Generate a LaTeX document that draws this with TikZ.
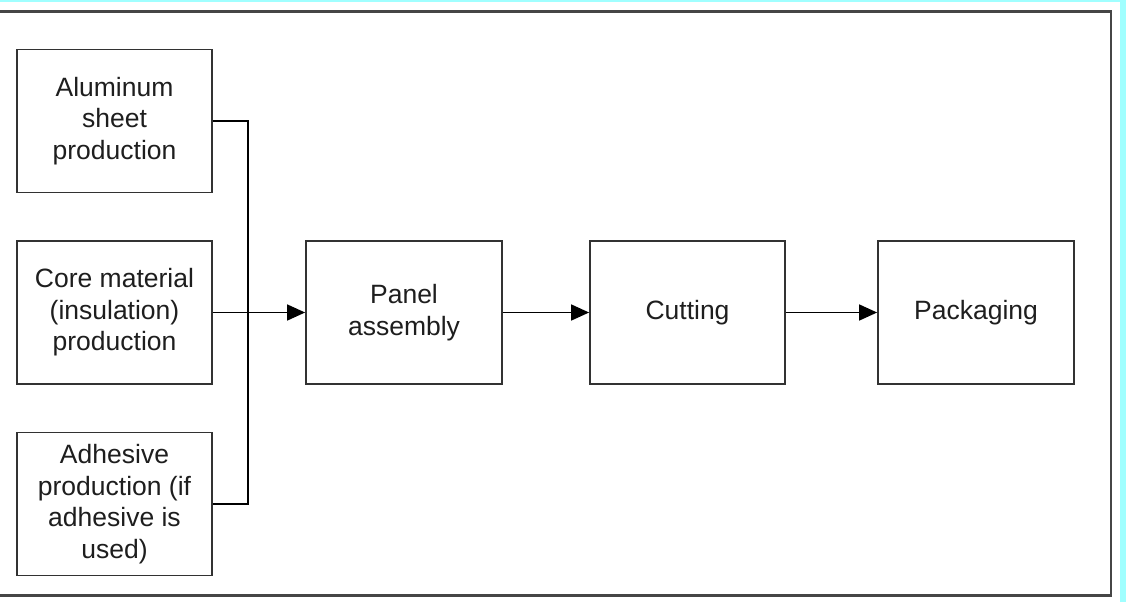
\documentclass[tikz,border=0pt]{standalone}
\usepackage{fontspec}
\setmainfont{Liberation Sans}
\usetikzlibrary{arrows.meta}
\definecolor{cyanedge}{RGB}{160,255,255}
\definecolor{framegray}{RGB}{70,70,70}
\definecolor{boxgray}{RGB}{50,50,50}
\definecolor{txtgray}{RGB}{30,30,30}
\tikzset{
  procbox/.style={draw=boxgray, line width=1.8pt, minimum width=195pt, minimum height=143pt,
    align=center, inner sep=0pt, text=txtgray, font=\fontsize{26.5}{31.5}\selectfont},
  wire/.style={draw=black, line width=1.6pt},
  flow/.style={wire, -{Triangle[length=18pt,width=16pt]}}
}
\begin{document}
\begin{tikzpicture}[x=1pt,y=-1pt]
\useasboundingbox (0,0) rectangle (1126,602);
\fill[white] (0,0) rectangle (1126,602);
\fill[cyanedge] (0,0) rectangle (1126,2);
\fill[cyanedge] (1120,0) rectangle (1126,602);
\draw[framegray, line width=2.5pt] (-5,11.5) rectangle (1111,595.5);

\node[procbox] (alu) at (114.5,121) {Aluminum\\sheet\\production};
\node[procbox] (core) at (114.5,312.5) {Core material\\(insulation)\\production};
\node[procbox] (adh) at (114.5,504) {Adhesive\\production (if\\adhesive is\\used)};
\node[procbox, minimum width=196pt] (panel) at (404,312.5) {Panel\\assembly};
\node[procbox] (cut) at (687.5,312.5) {Cutting};
\node[procbox, minimum width=196pt] (pack) at (976,312.5) {Packaging};

\coordinate (bustop) at (248,121);
\coordinate (busbot) at (248,504);
\draw[wire] (alu.east) -- (bustop) -- (busbot) -- (adh.east);
\draw[flow] (core.east) -- (panel.west);
\draw[flow] (panel.east) -- (cut.west);
\draw[flow] (cut.east) -- (pack.west);
\end{tikzpicture}
\end{document}
